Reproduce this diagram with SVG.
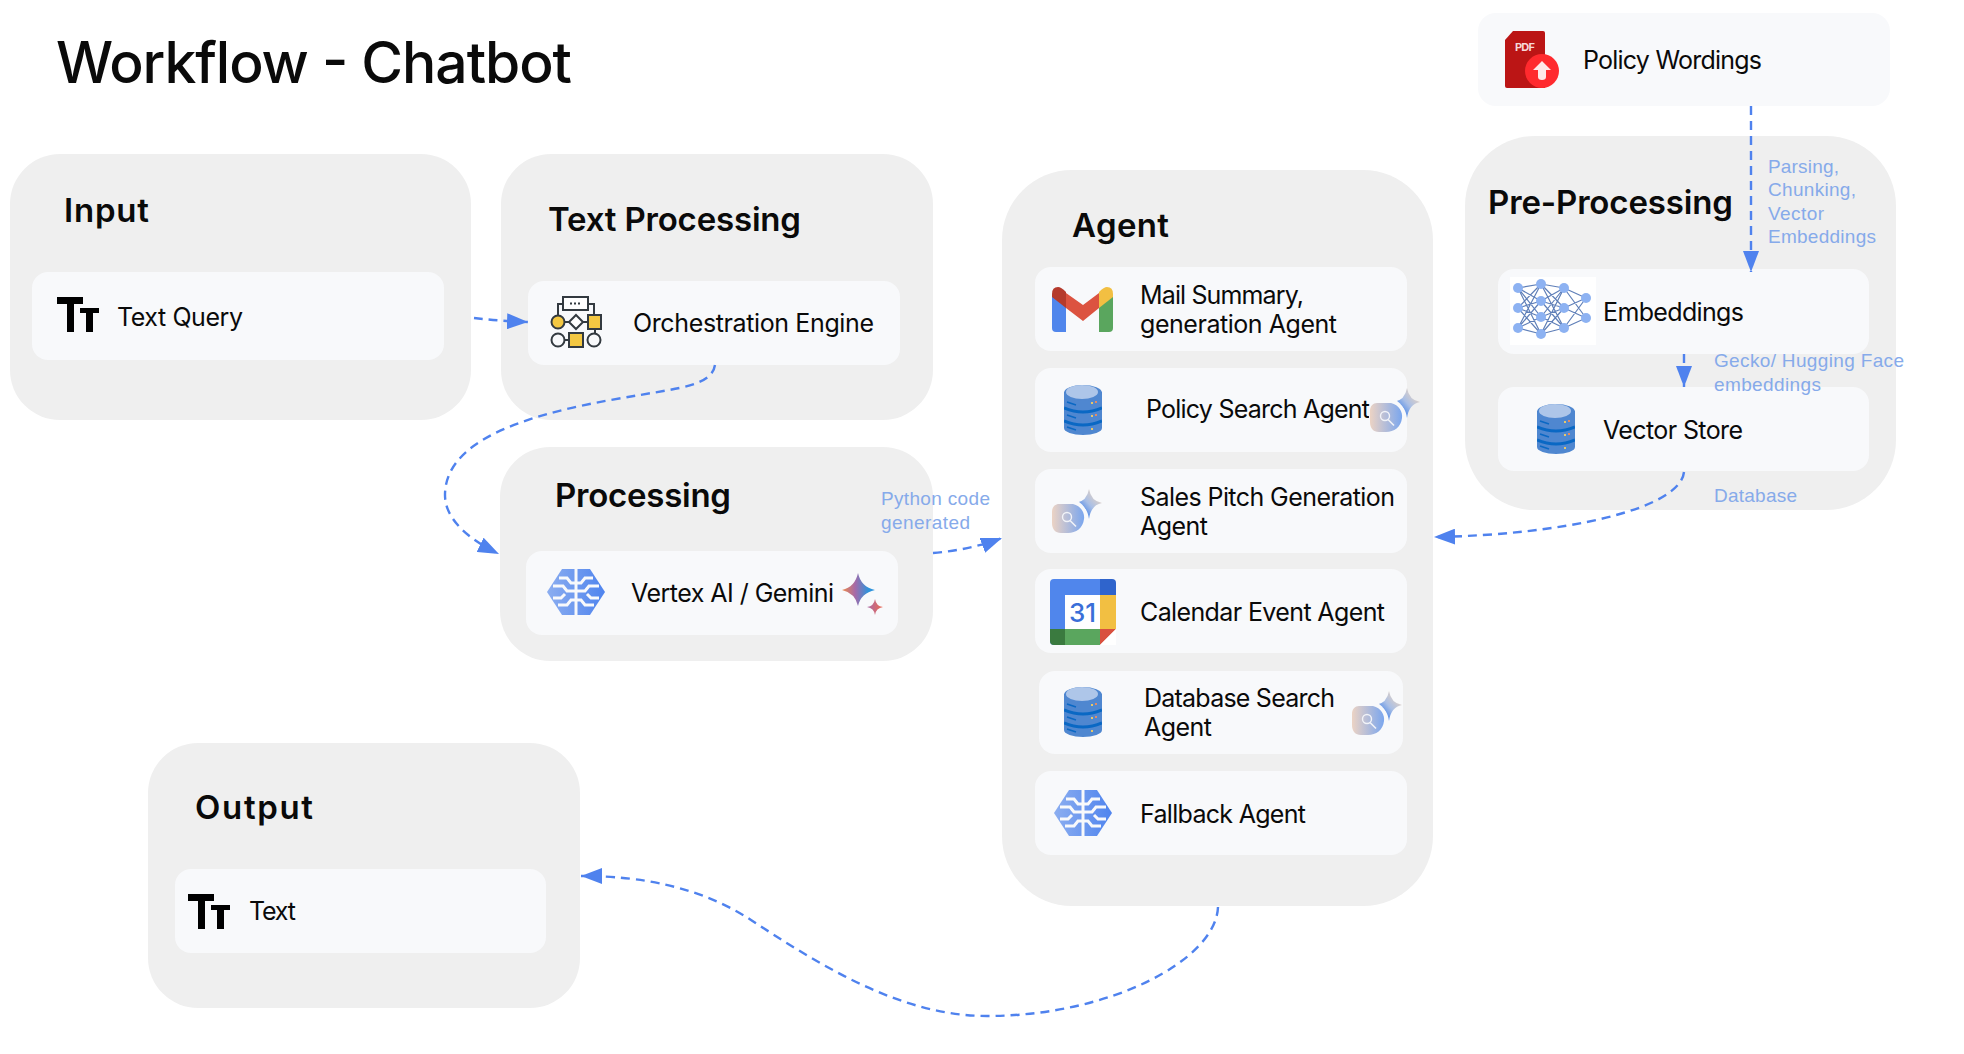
<svg xmlns="http://www.w3.org/2000/svg" width="1964" height="1054" viewBox="0 0 1964 1054">
<style>
text{font-family:"Inter","Liberation Sans",sans-serif;fill:#0a0a0a}
.panel{fill:#efefef}
.card{fill:#f8f9fb}
.t{font-size:25px;font-weight:400}
.h{font-size:33px;font-weight:600}
.title{font-size:57px;font-weight:500}
.lb{font-family:"Liberation Sans",Arial,sans-serif;font-size:19px;fill:#86aaea}
.conn{fill:none;stroke:#4f82ee;stroke-width:2.400;stroke-dasharray:9 6}
.tip{fill:#4f82ee}
.ol{fill:none;stroke:#333a40;stroke-width:2}
.oly{fill:#f4c842;stroke:#333a40;stroke-width:2}
.nn{stroke:#5f7fb8;stroke-width:1.2;fill:none}
.nd{fill:#8db2f2}
</style>
<defs>
<marker id="arrow" markerUnits="userSpaceOnUse" markerWidth="22" markerHeight="16" refX="21" refY="8" orient="auto"><path class="tip" d="M0 0L21 8L0 16Z"/></marker>
<linearGradient id="brainG" x1="0" x2="1" y1="0" y2="0"><stop offset="0" stop-color="#8caef0"/><stop offset="1" stop-color="#4f84ee"/></linearGradient>
<linearGradient id="bubG" x1="0" x2="1" y1="0" y2="0"><stop offset="0" stop-color="#ecd3c4"/><stop offset="1" stop-color="#7aa6ee"/></linearGradient>
<linearGradient id="spG" x1="1" x2="0" y1="0" y2="1"><stop offset="0.1" stop-color="#f0d6bc"/><stop offset="0.5" stop-color="#a9bfe6"/><stop offset="0.8" stop-color="#3f7fe6"/></linearGradient>
<linearGradient id="gemG" x1="0" x2="1" y1="0" y2="0"><stop offset="0" stop-color="#ef8a4a"/><stop offset="0.4" stop-color="#a56aa8"/><stop offset="0.8" stop-color="#2e93dc"/></linearGradient>
<linearGradient id="gem2G" x1="0" x2="1" y1="0" y2="0"><stop offset="0" stop-color="#a96aa8"/><stop offset="1" stop-color="#ee6a50"/></linearGradient>
<symbol id="tt" width="44" height="36" viewBox="0 0 44 36" overflow="visible">
<rect x="0" y="0" width="26" height="7"/><rect x="10" y="0" width="7" height="35"/><rect x="23" y="11" width="19" height="5"/><rect x="29" y="11" width="7" height="24"/>
</symbol>
<symbol id="db" width="38" height="50" viewBox="0 0 38 50">
<rect x="0" y="7" width="38" height="36" fill="#4f87d0"/><ellipse cx="19" cy="43" rx="19" ry="7" fill="#4f87d0"/>
<path d="M0 23Q19 31 38 23M0 36Q19 44 38 36" fill="none" stroke="#0a68c4" stroke-width="3"/>
<path d="M3 17l9 3M3 30l9 3M3 42l9 3" stroke="#0a68c4" stroke-width="1.5"/>
<ellipse cx="19" cy="8" rx="19" ry="8" fill="#4f87d0"/><ellipse cx="18" cy="7" rx="16" ry="7" fill="#aec6e9"/>
<rect x="27" y="17" width="2" height="2" fill="#e6c76a"/><rect x="31" y="16" width="2" height="2" fill="#e08b6a"/>
<rect x="27" y="30" width="2" height="2" fill="#e6c76a"/><rect x="31" y="29" width="2" height="2" fill="#e08b6a"/>
<rect x="27" y="43" width="2" height="2" fill="#e6c76a"/>
</symbol>
<symbol id="sb" width="54" height="50" viewBox="0 0 54 50">
<path d="M38 2Q40 14 51 16Q40 18 38 32Q36 18 25 16Q36 14 38 2Z" fill="url(#spG)"/>
<circle cx="17" cy="31" r="19.500" fill="#f8f9fb"/>
<path d="M8 17H22C30 19 34 26 33 32C32 41 25 46 17 46H10C4 46 1 42 1 36V25C1 20 4 17 8 17Z" fill="url(#bubG)"/>
<circle cx="16" cy="30" r="4.500" fill="none" stroke="#f1f3f8" stroke-width="1.400"/><path d="M19 33.500l6 6" stroke="#f1f3f8" stroke-width="1.600"/>
</symbol>
<symbol id="brain" width="58" height="46" viewBox="0 0 58 46">
<path d="M15 0H43L58 23L43 46H15L0 23Z" fill="url(#brainG)"/>
<g fill="none" stroke="#f8f9fb" stroke-width="3">
<path d="M29 0V46"/>
<path d="M12 9H20L24 14H29M46 9H38L34 14H29"/>
<path d="M6 17H16L20 22H29M52 17H42L38 22H29"/>
<path d="M6 29H14L18 25M52 29H44L40 25"/>
<path d="M11 36H20L24 31H29M47 36H38L34 31H29"/>
</g>
</symbol>
</defs>
<rect width="1964" height="1054" fill="#ffffff"/>
<text class="title" x="56" y="83" textLength="516">Workflow - Chatbot</text>

<g id="panel-input"><rect class="panel" x="10" y="154" width="461" height="266" rx="50"/><text class="h" x="64" y="222" textLength="85">Input</text></g>
<g id="panel-text-processing"><rect class="panel" x="501" y="154" width="432" height="266" rx="50"/><text class="h" x="548" y="231" textLength="253">Text Processing</text></g>
<g id="panel-processing"><rect class="panel" x="500" y="447" width="433" height="214" rx="50"/><text class="h" x="555" y="507" textLength="176">Processing</text></g>
<g id="panel-agent"><rect class="panel" x="1002" y="170" width="431" height="736" rx="70"/><text class="h" x="1072" y="237" textLength="97">Agent</text></g>
<g id="panel-pre-processing"><rect class="panel" x="1465" y="136" width="431" height="374" rx="70"/><text class="h" x="1488" y="214" textLength="245">Pre-Processing</text></g>
<g id="panel-output"><rect class="panel" x="148" y="743" width="432" height="265" rx="50"/><text class="h" x="195" y="819" textLength="118">Output</text></g>

<g id="node-text-query"><rect class="card" x="32" y="272" width="412" height="88" rx="16"/><use href="#tt" x="57" y="297"/><text class="t" x="117" y="326" textLength="126">Text Query</text></g>

<g id="node-orchestration"><rect class="card" x="528" y="281" width="372" height="84" rx="16"/>
<path class="ol" d="M563 304H558V316M588 304H594V315M565 322H570M582 322H588M595 329V334M564 340H569"/>
<rect x="563" y="297" width="25" height="13" fill="#fff" stroke="#333a40" stroke-width="2"/><path d="M570 303.500h2m2 0h2m2 0h2" stroke="#333a40" stroke-width="2"/>
<circle class="oly" cx="558" cy="322" r="6.500"/><path d="M576 315l7 7l-7 7l-7-7z" fill="#fff" stroke="#333a40" stroke-width="2"/><rect class="oly" x="588" y="315" width="13" height="14"/>
<circle class="ol" cx="558" cy="340" r="6.500"/><rect class="oly" x="569" y="333" width="14" height="14"/><circle class="ol" cx="594" cy="340" r="6.500"/>
<text class="t" x="633" y="332" textLength="241">Orchestration Engine</text></g>

<g id="node-vertex"><rect class="card" x="526" y="551" width="372" height="84" rx="16"/><use href="#brain" x="547" y="569"/><text class="t" x="631" y="602" textLength="203">Vertex AI / Gemini</text>
<path d="M858 573Q861 587 875 590Q861 593 858 606Q855 593 842 590Q855 587 858 573Z" fill="url(#gemG)"/>
<path d="M875 599Q876 606 883 607Q876 608 875 615Q874 608 867 607Q874 606 875 599Z" fill="url(#gem2G)"/></g>

<g id="node-mail"><rect class="card" x="1035" y="267" width="372" height="84" rx="16"/>
<path d="M1052 297H1066V332H1056Q1052 332 1052 328Z" fill="#5086ec"/><path d="M1099 297H1113V328Q1113 332 1109 332H1099Z" fill="#5aa65e"/>
<path d="M1066 293L1083 305L1099 293V308L1083 321L1066 308Z" fill="#dc5340"/>
<path d="M1052 297V294Q1052 287 1058 287Q1061 287 1066 292V308Z" fill="#b53a2c"/><path d="M1113 297V294Q1113 287 1107 287Q1104 287 1099 292V308Z" fill="#f2bf42"/>
<text class="t" x="1140" y="304" textLength="164">Mail Summary,</text><text class="t" x="1140" y="333" textLength="197">generation Agent</text></g>

<g id="node-policy-search"><rect class="card" x="1035" y="368" width="372" height="84" rx="16"/><use href="#db" x="1064" y="385"/><text class="t" x="1146" y="418" textLength="224">Policy Search Agent</text><use href="#sb" x="1369" y="386"/></g>

<g id="node-sales"><rect class="card" x="1035" y="469" width="372" height="84" rx="16"/><use href="#sb" x="1051" y="487"/><text class="t" x="1140" y="506" textLength="255">Sales Pitch Generation</text><text class="t" x="1140" y="535" textLength="68">Agent</text></g>

<g id="node-calendar"><rect class="card" x="1035" y="569" width="372" height="84" rx="16"/>
<path d="M1054 579H1100V629H1065V645H1054Q1050 645 1050 641V583Q1050 579 1054 579Z" fill="#5086ec"/><path d="M1100 579H1112Q1116 579 1116 583V595H1100Z" fill="#2f64cc"/>
<rect x="1065" y="595" width="35" height="34" fill="#fff"/><rect x="1100" y="595" width="16" height="34" fill="#f2bf42"/>
<path d="M1065 629H1100V645H1065Z" fill="#5aa65e"/><path d="M1050 629H1065V645H1054Q1050 645 1050 641Z" fill="#3a7a3f"/>
<path d="M1100 629H1116L1100 645Z" fill="#d9503f"/><path d="M1116 629V645H1100Z" fill="#ffffff"/>
<text x="1069" y="622" style="font-size:26px;font-weight:500;fill:#3a6fd8" textLength="27">31</text>
<text class="t" x="1140" y="621" textLength="245">Calendar Event Agent</text></g>

<g id="node-database-search"><rect class="card" x="1039" y="671" width="364" height="83" rx="16"/><use href="#db" x="1064" y="687"/><text class="t" x="1144" y="707" textLength="191">Database Search</text><text class="t" x="1144" y="736" textLength="68">Agent</text><use href="#sb" x="1351" y="689"/></g>

<g id="node-fallback"><rect class="card" x="1035" y="771" width="372" height="84" rx="16"/><use href="#brain" x="1054" y="790"/><text class="t" x="1140" y="823" textLength="166">Fallback Agent</text></g>

<g id="node-policy-wordings"><rect class="card" x="1478" y="13" width="412" height="93" rx="18"/>
<path d="M1513 31H1543Q1545 31 1545 33V88H1507Q1505 88 1505 86V40Z" fill="#bb1515"/>
<text x="1515" y="51" style="font-size:11px;font-weight:700;fill:#f6d8d8" textLength="20">PDF</text>
<circle cx="1542" cy="71" r="17" fill="#ff2a2e"/><path d="M1542 61L1551 70H1546V77Q1546 80 1542 80Q1538 80 1538 77V70H1533Z" fill="#ffe8e8"/>
<text class="t" x="1583" y="69" textLength="179">Policy Wordings</text></g>

<g id="node-embeddings"><rect class="card" x="1498" y="269" width="371" height="85" rx="16"/><rect x="1510" y="277" width="86" height="68" fill="#ffffff"/>
<path class="nn" d="M1518 288L1541 284M1518 288L1541 301M1518 288L1541 317M1518 288L1541 334M1518 308L1541 284M1518 308L1541 301M1518 308L1541 317M1518 308L1541 334M1518 328L1541 284M1518 328L1541 301M1518 328L1541 317M1518 328L1541 334M1541 284L1564 288M1541 284L1564 308M1541 284L1564 328M1541 301L1564 288M1541 301L1564 308M1541 301L1564 328M1541 317L1564 288M1541 317L1564 308M1541 317L1564 328M1541 334L1564 288M1541 334L1564 308M1541 334L1564 328M1564 288L1586 298M1564 288L1586 318M1564 308L1586 298M1564 308L1586 318M1564 328L1586 298M1564 328L1586 318"/>
<g class="nd"><circle cx="1518" cy="288" r="5"/><circle cx="1518" cy="308" r="5"/><circle cx="1518" cy="328" r="5"/><circle cx="1541" cy="284" r="5"/><circle cx="1541" cy="301" r="5"/><circle cx="1541" cy="317" r="5"/><circle cx="1541" cy="334" r="5"/><circle cx="1564" cy="288" r="5"/><circle cx="1564" cy="308" r="5"/><circle cx="1564" cy="328" r="5"/><circle cx="1586" cy="298" r="5"/><circle cx="1586" cy="318" r="5"/></g>
<text class="t" x="1603" y="321" textLength="141">Embeddings</text></g>

<g id="node-vector-store"><rect class="card" x="1498" y="387" width="371" height="84" rx="16"/><use href="#db" x="1537" y="404"/><text class="t" x="1603" y="439" textLength="140">Vector Store</text></g>

<g id="node-output-text"><rect class="card" x="175" y="869" width="371" height="84" rx="16"/><use href="#tt" x="188" y="894"/><text class="t" x="249" y="920" textLength="47">Text</text></g>

<g id="connectors">
<path class="conn" marker-end="url(#arrow)" d="M474 318Q500 321 528 322"/>
<path class="conn" marker-end="url(#arrow)" d="M715 365C712 385 680 388 640 395C560 408 445 430 445 495C445 520 470 540 499 554"/>
<path class="conn" marker-end="url(#arrow)" d="M933 553Q970 550 1002 538"/>
<path class="conn" marker-end="url(#arrow)" d="M1751 106V272"/>
<path class="conn" marker-end="url(#arrow)" d="M1684 354V387"/>
<path class="conn" marker-end="url(#arrow)" d="M1684 472C1680 510 1560 535 1434 537"/>
<path class="conn" marker-end="url(#arrow)" d="M1218 907C1216 960 1110 1016 987 1016C900 1016 820 965 751 920C690 880 620 876 581 876"/>
</g>
<g id="labels">
<text class="lb" x="881" y="505" textLength="109">Python code</text><text class="lb" x="881" y="529" textLength="89">generated</text>
<text class="lb" x="1768" y="173" textLength="71">Parsing,</text><text class="lb" x="1768" y="196" textLength="88">Chunking,</text><text class="lb" x="1768" y="220" textLength="56">Vector</text><text class="lb" x="1768" y="243" textLength="108">Embeddings</text>
<text class="lb" x="1714" y="367" textLength="190">Gecko/ Hugging Face</text><text class="lb" x="1714" y="391" textLength="107">embeddings</text>
<text class="lb" x="1714" y="502" textLength="83">Database</text>
</g>
</svg>
